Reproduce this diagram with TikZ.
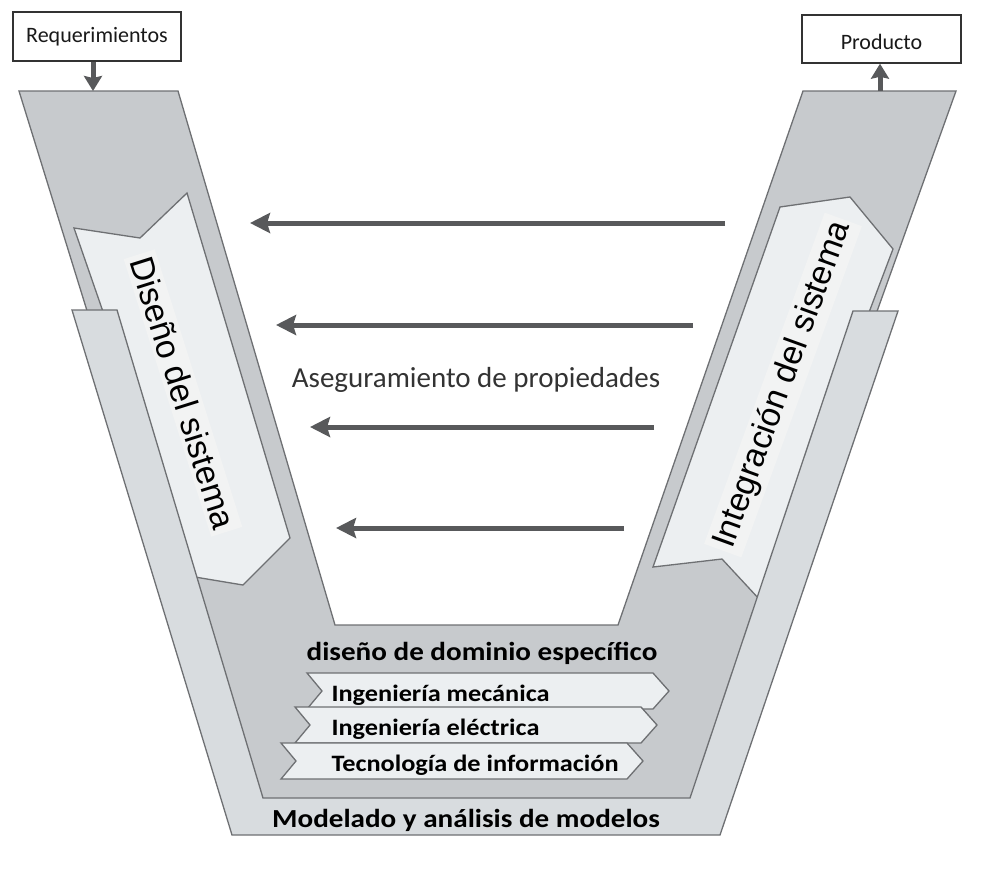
\documentclass[tikz,border=0pt]{standalone}
\usepackage{fontspec}
\setmainfont{Liberation Sans}
\newfontfamily\calibri{Carlito}
\newfontfamily\calibriwide[FakeStretch=1.12]{Carlito}
\usetikzlibrary{arrows.meta}

\definecolor{vdark}{HTML}{C7CACD}
\definecolor{vlight}{HTML}{D8DCDF}
\definecolor{vpale}{HTML}{ECEFF1}
\definecolor{vglow}{HTML}{F2F3F3}
\definecolor{vedge}{HTML}{6E7073}
\definecolor{varrow}{HTML}{58595B}

\tikzset{
  panel/.style={draw=vedge, line width=1.3pt, line join=miter},
  ioBox/.style={draw=black!80, line width=1.4pt, fill=white, inner sep=0pt, font=\calibri\fontsize{22}{24}\selectfont, text=black!90},
  ioArrow/.style={varrow, line width=5pt, -{Stealth[length=15pt,width=18pt,inset=2pt]}},
  checkArrow/.style={varrow, line width=5pt, -{Stealth[length=20pt,width=20pt,inset=3pt]}},
  phaseText/.style={fill=vglow, inner sep=4pt, font=\fontsize{33.5}{36}\selectfont},
  bandText/.style={anchor=base west, font=\calibriwide\bfseries\fontsize{23.5}{26}\selectfont},
  layerText/.style={anchor=base, font=\calibriwide\bfseries\fontsize{26}{28}\selectfont}
}

\begin{document}
\begin{tikzpicture}[x=1pt,y=-1pt]
	\useasboundingbox (0,0) rectangle (993,876);

	\filldraw[panel, fill=vdark] (19,91) -- (178,91) -- (335,625) -- (618,625) -- (803,91) -- (956,91) -- (700,805) -- (240,805) -- cycle;

	\filldraw[panel, fill=vpale] (74,228) -- (140,238) -- (187,193) -- (290,538) -- (243,585) -- (195,577) -- cycle;
	\node[phaseText, rotate=-72.5] (design) at (183,393) {Diseño del sistema};

	\filldraw[panel, fill=vpale] (780,207) -- (850,197) -- (893,249) -- (760,600) -- (722,559) -- (653,567) -- cycle;
	\node[phaseText, rotate=70] (integration) at (783,385) {Integración del sistema};

	\filldraw[panel, fill=vlight] (72,310) -- (117,310) -- (263,798) -- (690,798) -- (853,311) -- (898,311) -- (720,835) -- (232,835) -- cycle;

	\begin{scope}
		\clip (0,0) rectangle (993,834);
		\node[layerText] (modeling) at (466,827) {Modelado y análisis de modelos};
	\end{scope}

	\node[layerText] (specific) at (482,660) {diseño de dominio específico};

	\foreach \bx/\by/\bn/\bt in {307/673/mech/Ingeniería mecánica, 295/707/elec/Ingeniería eléctrica, 281/743/info/Tecnología de información} {
		\filldraw[panel, fill=vpale] (\bx,\by) -- (\bx+346,\by) -- (\bx+362,\by+18) -- (\bx+346,\by+36) -- (\bx,\by+36) -- (\bx+15,\by+18) -- cycle;
		\node[bandText] (\bn) at (328,\by+28) {\bt};
	}

	\foreach \i/\xa/\xb/\yy in {1/725/250/223, 2/693/276/325, 3/654/310/427, 4/624/336/528} {
		\coordinate (from\i) at (\xa,\yy);
		\coordinate (to\i) at (\xb,\yy);
		\draw[checkArrow] (from\i) -- (to\i);
	}
	\node[anchor=base, font=\calibri\fontsize{29}{32}\selectfont, text=black!80] (assure) at (476,387) {Aseguramiento de propiedades};

	\node[ioBox, minimum width=168pt, minimum height=49pt] (req) at (97,36.5) {Requerimientos};
	\node[ioBox, minimum width=159pt, minimum height=48pt, text height=20pt, text depth=0pt] (prod) at (881.5,39) {Producto};
	\coordinate (reqIn) at (93,91);
	\coordinate (prodOut) at (880,91);
	\draw[ioArrow] (reqIn |- req.south) -- (reqIn);
	\draw[ioArrow] (prodOut) -- (prodOut |- prod.south);
\end{tikzpicture}
\end{document}
